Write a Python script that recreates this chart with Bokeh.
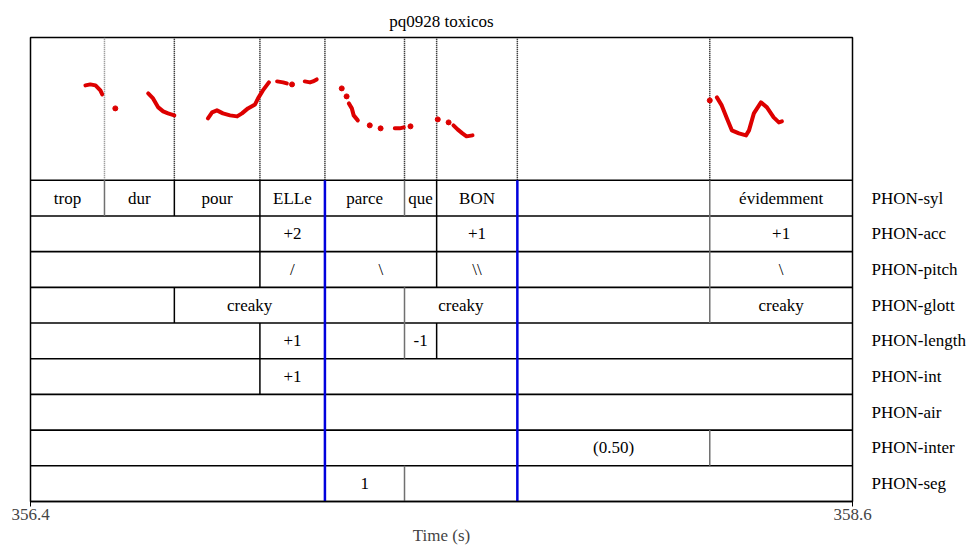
from bokeh.plotting import figure
from bokeh.models import Range1d, LinearAxis, FixedTicker
from bokeh.core.properties import value
from bokeh.embed import file_html
from bokeh.resources import INLINE

# ---------------- data ----------------
t_start, t_end = 356.4, 358.6
title_text = "pq0928 toxicos"

tier_names = ["PHON-syl", "PHON-acc", "PHON-pitch", "PHON-glott", "PHON-length",
              "PHON-int", "PHON-air", "PHON-inter", "PHON-seg"]

syl_bounds = [356.4, 356.598, 356.785, 357.014, 357.188, 357.401, 357.487, 357.703, 358.218, 358.6]
syl_labels = ["trop", "dur", "pour", "ELLe", "parce", "que", "BON", "", "évidemment"]
acc_bounds = [356.4, 357.014, 357.188, 357.487, 357.703, 358.218, 358.6]
acc_labels = ["", "+2", "", "+1", "", "+1"]
pitch_bounds = [356.4, 357.014, 357.188, 357.487, 357.703, 358.218, 358.6]
pitch_labels = ["", "/", "\\", "\\\\", "", "\\"]
glott_bounds = [356.4, 356.785, 357.188, 357.401, 357.703, 358.218, 358.6]
glott_labels = ["", "creaky", "", "creaky", "", "creaky"]
length_bounds = [356.4, 357.014, 357.188, 357.401, 357.487, 357.703, 358.6]
length_labels = ["", "+1", "", "-1", "", ""]
int_bounds = [356.4, 357.014, 357.188, 357.703, 358.6]
int_labels = ["", "+1", "", ""]
air_bounds = [356.4, 357.188, 357.703, 358.6]
air_labels = ["", "", ""]
inter_bounds = [356.4, 357.188, 357.703, 358.218, 358.6]
inter_labels = ["", "", "(0.50)", ""]
seg_bounds = [356.4, 357.188, 357.401, 357.703, 358.6]
seg_labels = ["", "1", "", ""]

blue_marks = [357.188, 357.703]
gray_bounds = [356.598, 357.401, 358.218]

# pitch contour (Hz), continuous stretches
pitch_segments_t = [
    [356.547, 356.560, 356.574, 356.587, 356.592],
    [356.715, 356.728, 356.742, 356.755, 356.768, 356.785],
    [356.875, 356.886, 356.899, 356.915, 356.934, 356.953, 356.966, 356.982, 357.001, 357.009, 357.022, 357.038],
    [357.060, 357.076, 357.086],
    [357.134, 357.148, 357.156, 357.166],
    [357.252, 357.260, 357.265, 357.276],
    [357.375, 357.388, 357.399],
    [357.532, 357.543, 357.556, 357.567, 357.583],
    [358.237, 358.250, 358.264, 358.277, 358.296, 358.315, 358.323, 358.336, 358.355, 358.371, 358.389, 358.403, 358.411],
]
pitch_segments_hz = [
    [232.9, 234.3, 232.9, 225.9, 220.3],
    [221.7, 214.7, 202.1, 196.5, 193.7, 190.9],
    [186.7, 195.1, 197.9, 193.7, 190.9, 189.5, 193.7, 200.7, 206.3, 214.7, 225.9, 237.1],
    [238.5, 237.1, 235.7],
    [238.5, 237.1, 238.5, 241.3],
    [207.7, 200.7, 190.9, 183.9],
    [172.7, 172.7, 174.1],
    [176.9, 171.3, 165.7, 161.5, 162.9],
    [216.1, 204.9, 186.7, 169.9, 165.7, 162.9, 169.9, 193.7, 209.1, 202.1, 188.1, 181.1, 182.5],
]
pitch_dots_t = [356.627, 357.100, 357.233, 357.246, 357.308, 357.337, 357.417, 357.490, 357.519, 358.218]
pitch_dots_hz = [200.7, 234.3, 228.7, 217.5, 176.9, 172.7, 175.5, 185.3, 181.1, 211.9]
pitch_min, pitch_max = 100.0, 300.0

# ---------------- figure ----------------
FONT_NAME = "Liberation Serif"
FONT = value(FONT_NAME)
FS = "17px"
n_tiers = len(tier_names)
pitch_units = 4
y_top = n_tiers + pitch_units

p = figure(width=968, height=549, x_range=Range1d(t_start, t_end), y_range=Range1d(0, y_top),
           output_backend="svg", toolbar_location=None, y_axis_location=None,
           min_border_left=30, min_border_right=114, min_border_top=37, min_border_bottom=48,
           title=title_text)
p.title.align = "center"
p.title.text_font = FONT_NAME
p.title.text_font_style = "normal"
p.title.text_font_size = FS
p.title.text_color = "black"
p.title.standoff = 14
p.xgrid.visible = False
p.ygrid.visible = False
p.outline_line_color = "black"
p.outline_line_width = 1.5
p.background_fill_color = "white"
p.border_fill_color = "white"

# pitch range mapped onto the top panel
scale = (pitch_max - pitch_min) / pitch_units
p.extra_y_ranges = {"pitch": Range1d(pitch_min - n_tiers * scale, pitch_max)}

# x axis
xa = p.xaxis[0]
xa.ticker = FixedTicker(ticks=[t_start, t_end])
xa.minor_tick_line_color = None
xa.major_tick_out = 5
xa.major_tick_in = 0
xa.axis_line_width = 1.5
xa.major_label_text_font = FONT_NAME
xa.major_label_text_font_size = FS
xa.axis_label = "Time (s)"
xa.axis_label_text_font = FONT_NAME
xa.axis_label_text_font_style = "normal"
xa.axis_label_text_font_size = FS
xa.major_label_standoff = 2
xa.axis_label_standoff = 3

# right axis with tier names
ra = LinearAxis(ticker=FixedTicker(ticks=[n_tiers - i - 0.5 for i in range(n_tiers)]))
ra.major_label_overrides = {n_tiers - i - 0.5: name for i, name in enumerate(tier_names)}
ra.axis_line_color = None
ra.major_tick_line_color = None
ra.minor_tick_line_color = None
ra.major_tick_out = 0
ra.major_tick_in = 0
ra.major_label_standoff = 19
ra.major_label_text_font = FONT_NAME
ra.major_label_text_font_size = FS
ra.major_label_text_color = "black"
p.add_layout(ra, "right")

tiers = [
    (syl_bounds, syl_labels), (acc_bounds, acc_labels), (pitch_bounds, pitch_labels),
    (glott_bounds, glott_labels), (length_bounds, length_labels), (int_bounds, int_labels),
    (air_bounds, air_labels), (inter_bounds, inter_labels), (seg_bounds, seg_labels),
]

# horizontal separators
p.segment(x0=[t_start] * (n_tiers), x1=[t_end] * (n_tiers), y0=list(range(1, n_tiers + 1)),
          y1=list(range(1, n_tiers + 1)), line_color="black", line_width=1.6)

bx, by0, by1, bcol = [], [], [], []
tx, ty, tt = [], [], []
for i, (bounds, labels) in enumerate(tiers):
    top = n_tiers - i
    bottom = top - 1
    for b in bounds[1:-1]:
        if b in blue_marks:
            continue
        bx.append(b); by0.append(bottom); by1.append(top)
        bcol.append("#707070" if b in gray_bounds else "black")
    for k, lab in enumerate(labels):
        if lab:
            tx.append((bounds[k] + bounds[k + 1]) / 2)
            ty.append(bottom + 0.5)
            tt.append(lab)

p.segment(x0=bx, x1=bx, y0=by0, y1=by1, line_color=bcol, line_width=1.5)

# dotted lines in pitch panel at syllable boundaries
sb = syl_bounds[1:-1]
p.segment(x0=sb, x1=sb, y0=[n_tiers] * len(sb), y1=[y_top] * len(sb),
          line_color=["#808080" if b == gray_bounds[0] else "black" for b in sb],
          line_width=1.5, line_dash="1 1")

# blue marks through the tiers
p.segment(x0=blue_marks, x1=blue_marks, y0=[0] * len(blue_marks), y1=[n_tiers] * len(blue_marks),
          line_color="#0000dd", line_width=2.5)

p.text(x=tx, y=ty, text=tt, text_align="center", text_baseline="middle",
       text_font=FONT, text_font_size=FS, text_color="black")

# pitch
RED = "#dd0000"
p.multi_line(xs=pitch_segments_t, ys=pitch_segments_hz, y_range_name="pitch",
             line_color=RED, line_width=4, line_cap="round", line_join="round")
p.scatter(x=pitch_dots_t, y=pitch_dots_hz, y_range_name="pitch", size=5,
          fill_color=RED, line_color=RED)

open("out.html", "w").write(file_html(p, INLINE))
